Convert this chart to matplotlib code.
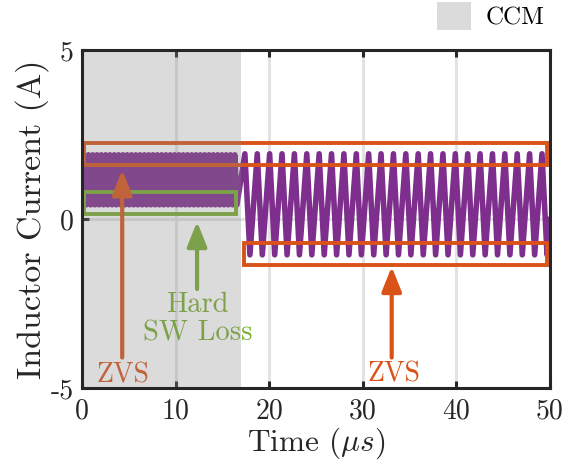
import numpy as np
import matplotlib
matplotlib.use("agg")
import matplotlib.pyplot as plt
from matplotlib.patches import Rectangle, Patch, FancyArrowPatch

plt.rcParams['font.family'] = 'cmr10'
plt.rcParams['mathtext.fontset'] = 'cm'
plt.rcParams['axes.formatter.use_mathtext'] = True

purple = "#7E2F8E"
orange = "#D95319"
green = "#77AC30"

# Inductor current waveform (A), times in us
ccm_end = 17.0
ccm_peak, ccm_valley, ccm_period = 1.90, 0.42, 0.46
dcm_first_peak = 17.41
dcm_peak, dcm_valley, dcm_period, dcm_fall = 1.93, -1.06, 1.323, 0.54
t_end = 50.0

# Highlight boxes: (t0, t1, i0, i1)
zvs_ccm_box = (0.2, 49.7, 1.61, 2.24)
hard_box = (0.2, 16.45, 0.16, 0.79)
zvs_dcm_box = (17.3, 49.7, -1.35, -0.70)

# Arrows: (t, i_tail, i_tip)
zvs_ccm_arrow = (4.3, -4.1, 1.45)
hard_arrow = (12.3, -2.07, -0.08)
zvs_dcm_arrow = (33.1, -4.1, -1.41)

xticks = [0, 10, 20, 30, 40, 50]
yticks = [-5, 0, 5]

# build the piecewise linear waveform from its vertices
t_ccm = np.arange(0, ccm_end - 0.3, ccm_period / 2)
i_ccm = np.where(np.arange(len(t_ccm)) % 2 == 0, ccm_valley, ccm_peak)
t_pk = np.arange(dcm_first_peak, t_end, dcm_period)
t_dcm = np.ravel(np.column_stack([t_pk, t_pk + dcm_fall]))
i_dcm = np.ravel(np.column_stack([np.full(len(t_pk), dcm_peak), np.full(len(t_pk), dcm_valley)]))
keep = t_dcm <= t_end
t = np.concatenate([t_ccm, t_dcm[keep], [t_end]])
i = np.concatenate([i_ccm, i_dcm[keep], [dcm_valley + (dcm_peak - dcm_valley) * 0.35]])

fig = plt.figure(figsize=(5.63, 4.72), dpi=100)
ax = fig.add_axes([0.1456, 0.178, 0.831, 0.716])

ax.plot(t, i, color=purple, lw=4.0, solid_joinstyle='round', zorder=2)

for (t0, t1, i0, i1), c in [(zvs_ccm_box, orange), (hard_box, green), (zvs_dcm_box, orange)]:
    ax.add_patch(Rectangle((t0, i0), t1 - t0, i1 - i0, fill=False, ec=c, lw=2.8, zorder=3))

for (x, y0, y1), c in [(zvs_ccm_arrow, orange), (hard_arrow, green), (zvs_dcm_arrow, orange)]:
    ax.add_patch(FancyArrowPatch((x, y0), (x, y1), arrowstyle='-|>,head_length=1.0,head_width=0.4',
                                 mutation_scale=15, color=c, lw=3, shrinkA=0, shrinkB=0, zorder=4))

ax.text(4.35, -4.85, "ZVS", color=orange, fontsize=20, ha='center', va='baseline', zorder=4)
ax.text(33.3, -4.82, "ZVS", color=orange, fontsize=20, ha='center', va='baseline', zorder=4)
ax.text(12.35, -2.95, "Hard\nSW Loss", color=green, fontsize=20.5, ha='center', va='center',
        multialignment='center', linespacing=1.1, zorder=4)

# CCM interval shading sits on top of everything inside the axes
ax.axvspan(0, ccm_end, color='#888888', alpha=0.3, lw=0, zorder=10)

ax.set_xlim(0, 50)
ax.set_ylim(-5, 5)
ax.set_xticks(xticks)
ax.set_xticklabels([str(v) for v in xticks])
ax.set_yticks(yticks)
ax.set_yticklabels([str(v) for v in yticks])
ax.grid(True, color='#e3e3e3', lw=2.2)
ax.set_axisbelow(True)
ax.tick_params(direction='in', length=5, width=2.2, top=True, right=True,
               labelsize=20, colors='#262626')
ax.tick_params(axis='x', pad=7)
ax.tick_params(axis='y', pad=6)
for s in ax.spines.values():
    s.set_linewidth(2.2)
    s.set_color('#262626')
    s.set_zorder(20)

ax.set_xlabel(r"Time ($\mu s$)", fontsize=22.5, color='#262626', labelpad=1)
ax.set_ylabel("Inductor Current (A)", fontsize=24.5, color='#262626', labelpad=1)

fig.legend(handles=[Patch(facecolor='#888888', alpha=0.3, lw=0)], labels=["CCM"],
           loc='upper right', bbox_to_anchor=(545 / 563, 1 - 2 / 472), frameon=False,
           fontsize=18, handlelength=1.35, handleheight=1.35, handletextpad=0.6,
           borderpad=0, borderaxespad=0)

fig.savefig("out.png", dpi=100)
